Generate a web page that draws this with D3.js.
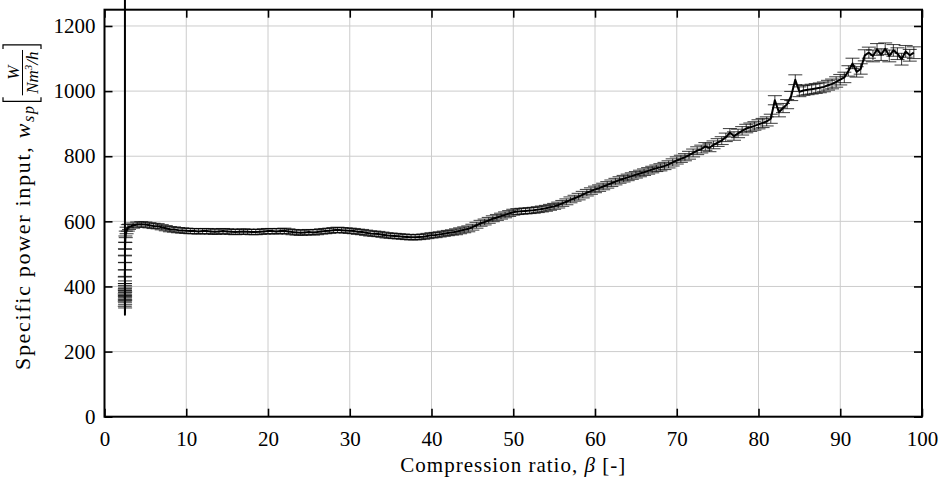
<!DOCTYPE html>
<html>
<head>
<meta charset="utf-8">
<script src="https://cdn.jsdelivr.net/npm/d3@7"></script>
<style>
  body { margin: 0; background: #fff; }
  svg { display: block; }
  text { font-family: "Liberation Serif", "DejaVu Serif", serif; fill: #000; }
</style>
</head>
<body>
<svg class="main" width="939" height="479"></svg>
<script>
// ticks
const xTicks = [0, 10, 20, 30, 40, 50, 60, 70, 80, 90, 100];
const yTicks = [0, 200, 400, 600, 800, 1000, 1200];

// start-up transient at beta ~ 2.5 (first point runs off the top)
const spikeBeta = [2.5, 2.5, 2.52, 2.48, 2.52, 2.5, 2.47, 2.53, 2.5, 2.48, 2.52, 2.5, 2.49, 2.51, 2.5, 2.48, 2.52, 2.5, 2.5, 2.52, 2.55, 2.6, 2.7, 2.85];
const spikeW = [1600, 313, 345, 350, 356, 361, 366, 371, 376, 381, 386, 392, 398, 405, 420, 440, 462, 485, 505, 525, 545, 560, 572, 580];
const spikeErr = [0, 0, 11, 11, 12, 11, 11, 12, 11, 11, 12, 11, 11, 12, 11, 11, 11, 11, 11, 11, 10, 10, 10, 10];

// measured curve
const beta = [
  3, 3.5, 4, 4.5, 5, 5.5, 6, 6.5, 7, 7.5,
  8, 8.5, 9, 9.5, 10, 10.5, 11, 11.5, 12, 12.5,
  13, 13.5, 14, 14.5, 15, 15.5, 16, 16.5, 17, 17.5,
  18, 18.5, 19, 19.5, 20, 20.5, 21, 21.5, 22, 22.5,
  23, 23.5, 24, 24.5, 25, 25.5, 26, 26.5, 27, 27.5,
  28, 28.5, 29, 29.5, 30, 30.5, 31, 31.5, 32, 32.5,
  33, 33.5, 34, 34.5, 35, 35.5, 36, 36.5, 37, 37.5,
  38, 38.5, 39, 39.5, 40, 40.5, 41, 41.5, 42, 42.5,
  43, 43.5, 44, 44.5, 45, 45.5, 46, 46.5, 47, 47.5,
  48, 48.5, 49, 49.5, 50, 50.5, 51, 51.5, 52, 52.5,
  53, 53.5, 54, 54.5, 55, 55.5, 56, 56.5, 57, 57.5,
  58, 58.5, 59, 59.5, 60, 60.5, 61, 61.5, 62, 62.5,
  63, 63.5, 64, 64.5, 65, 65.5, 66, 66.5, 67, 67.5,
  68, 68.5, 69, 69.5, 70, 70.5, 71, 71.5, 72, 72.5,
  73, 73.5, 74, 74.5, 75, 75.5, 76, 76.5, 77, 77.5,
  78, 78.5, 79, 79.5, 80, 80.5, 81, 81.5, 82, 82.5,
  83, 83.5, 84, 84.5, 85, 85.5, 86, 86.5, 87, 87.5,
  88, 88.5, 89, 89.5, 90, 90.5, 91, 91.5, 92, 92.5,
  93, 93.5, 94, 94.5, 95, 95.5, 96, 96.5, 97, 97.5,
  98, 98.5, 99
];
const wsp = [
  583, 587, 590, 591, 590, 588, 586, 585, 582, 579,
  576, 575, 573, 572, 571, 570, 570, 569, 570, 570,
  569, 568, 569, 570, 569, 568, 567, 568, 569, 568,
  567, 567, 568, 569, 570, 570, 569, 570, 571, 569,
  567, 566, 565, 566, 567, 566, 567, 569, 570, 571,
  573, 574, 573, 572, 571, 570, 568, 567, 565, 563,
  562, 561, 559, 557, 556, 555, 554, 553, 552, 551,
  551, 552, 553, 555, 557, 558, 560, 562, 564, 566,
  568, 571, 574, 577, 582, 588, 594, 598, 603, 608,
  612, 616, 620, 624, 628, 630, 631, 632, 633, 634,
  636, 638, 640, 643, 646, 650, 655, 660, 666, 671,
  676, 682, 688, 693, 698, 702, 707, 712, 717, 722,
  727, 731, 735, 739, 743, 747, 751, 755, 759, 763,
  766, 770, 775, 781, 787, 792, 797, 803, 810, 817,
  822, 830, 826, 835, 842, 848, 858, 872, 862, 870,
  878, 885, 889, 893, 898, 902, 907, 915, 972, 935,
  948, 960, 985, 1035, 998, 1002, 1004, 1006, 1008, 1010,
  1013, 1018, 1022, 1028, 1035, 1042, 1062, 1085, 1059, 1068,
  1110, 1118, 1108, 1128, 1112, 1130, 1108, 1125, 1115, 1098,
  1122, 1110, 1118
];
const wspErr = [
  8, 8, 8, 8, 8, 8, 8, 8, 8, 8,
  8, 8, 8, 8, 8, 8, 8, 8, 8, 8,
  8, 8, 8, 8, 8, 8, 8, 8, 8, 8,
  8, 8, 8, 8, 8, 8, 8, 8, 8, 8,
  8, 8, 8, 8, 8, 8, 8, 8, 8, 8,
  8, 8, 8, 8, 8, 8, 8, 8, 8, 8,
  8, 8, 8, 8, 8, 8, 8, 8, 8, 8,
  8, 8, 8, 8, 8, 8, 8, 8, 8, 8,
  9, 9, 9, 9, 9, 9, 9, 9, 9, 9,
  9, 9, 9, 9, 9, 9, 9, 9, 9, 9,
  9, 9, 9, 9, 9, 9, 9, 9, 9, 9,
  10, 10, 10, 10, 10, 10, 10, 10, 10, 10,
  10, 10, 10, 10, 10, 10, 10, 10, 10, 10,
  11, 11, 11, 11, 11, 11, 11, 12, 12, 12,
  12, 12, 12, 12, 12, 12, 13, 13, 13, 13,
  13, 13, 13, 13, 14, 14, 14, 14, 14, 14,
  14, 14, 14, 15, 15, 15, 15, 15, 15, 15,
  15, 15, 15, 16, 16, 16, 16, 16, 16, 16,
  17, 17, 18, 18, 18, 18, 18, 18, 18, 18,
  18, 18, 18
];

const svg = d3.select(".main");
const frame = { left: 104.5, right: 922, top: 9.7, bottom: 416.7 };

const x = d3.scaleLinear().domain([0, 100]).range([frame.left, frame.right]);
const y = d3.scaleLinear().domain([0, 1250]).range([frame.bottom, frame.top]);

// grid
const grid = svg.append("g").attr("stroke", "#cccccc").attr("stroke-width", 1);
grid.selectAll(".gx").data(xTicks.slice(1, -1)).join("line")
  .attr("x1", d => x(d)).attr("x2", d => x(d))
  .attr("y1", frame.top).attr("y2", frame.bottom);
grid.selectAll(".gy").data(yTicks.slice(1)).join("line")
  .attr("x1", frame.left).attr("x2", frame.right)
  .attr("y1", d => y(d)).attr("y2", d => y(d));

// points: spike then curve
const pts = spikeBeta.map((b, i) => ({ b, w: spikeW[i], e: spikeErr[i] }))
  .concat(beta.map((b, i) => ({ b, w: wsp[i], e: wspErr[i] })));

// error bars
const cap = 7;
const eb = svg.append("g").attr("stroke", "#000").attr("stroke-opacity", 0.7).attr("stroke-width", 1.1);
const bars = eb.selectAll("g").data(pts.filter(d => d.e > 0)).join("g");
bars.append("line")
  .attr("x1", d => x(d.b)).attr("x2", d => x(d.b))
  .attr("y1", d => y(d.w - d.e)).attr("y2", d => y(d.w + d.e));
bars.append("line")
  .attr("x1", d => x(d.b) - cap).attr("x2", d => x(d.b) + cap)
  .attr("y1", d => y(d.w + d.e)).attr("y2", d => y(d.w + d.e));
bars.append("line")
  .attr("x1", d => x(d.b) - cap).attr("x2", d => x(d.b) + cap)
  .attr("y1", d => y(d.w - d.e)).attr("y2", d => y(d.w - d.e));

// the curve
const line = d3.line().x(d => x(d.b)).y(d => y(d.w));
svg.append("path")
  .datum(pts)
  .attr("fill", "none")
  .attr("stroke", "#000")
  .attr("stroke-width", 2)
  .attr("stroke-linejoin", "round")
  .attr("d", line);

// axes, ticks pointing inward
function styleAxis(g) {
  g.attr("font-family", null).attr("font-size", null);
  g.select(".domain").remove();
  g.selectAll(".tick line").attr("stroke", "#000").attr("stroke-width", 1.6);
  g.selectAll(".tick text").attr("font-size", 21);
}
svg.append("g").attr("transform", `translate(0,${frame.bottom})`)
  .call(d3.axisBottom(x).tickValues(xTicks).tickSize(-8).tickPadding(14).tickFormat(d3.format("d")))
  .call(styleAxis);
svg.append("g").attr("transform", `translate(0,${frame.top})`)
  .call(d3.axisTop(x).tickValues(xTicks).tickSize(-8).tickFormat(""))
  .call(styleAxis);
svg.append("g").attr("transform", `translate(${frame.left},0)`)
  .call(d3.axisLeft(y).tickValues(yTicks).tickSize(-8).tickPadding(9).tickFormat(d3.format("d")))
  .call(styleAxis);
svg.append("g").attr("transform", `translate(${frame.right},0)`)
  .call(d3.axisRight(y).tickValues(yTicks).tickSize(-8).tickFormat(""))
  .call(styleAxis);

svg.append("rect")
  .attr("x", frame.left).attr("y", frame.top)
  .attr("width", frame.right - frame.left).attr("height", frame.bottom - frame.top)
  .attr("fill", "none").attr("stroke", "#000").attr("stroke-width", 2);

// x label
const xl = svg.append("text")
  .attr("x", (frame.left + frame.right) / 2).attr("y", 472)
  .attr("text-anchor", "middle").attr("font-size", 21).attr("letter-spacing", 1);
xl.append("tspan").text("Compression ratio, ");
xl.append("tspan").attr("font-style", "italic").text("β");
xl.append("tspan").text(" [-]");

// y label with fraction unit
const yl = svg.append("g");
const inner = yl.append("g");
const t1 = inner.append("text").attr("font-size", 22).attr("letter-spacing", 1.7);
t1.append("tspan").text("Specific power input, ");
t1.append("tspan").attr("font-style", "italic").text("w");
t1.append("tspan").attr("font-style", "italic").attr("font-size", 16).attr("dy", 4).text("sp");
const w1 = t1.node().getComputedTextLength();

const bx = w1 + 3;
const num = inner.append("text").attr("font-size", 17).attr("font-style", "italic")
  .attr("text-anchor", "middle").attr("y", -11).text("W");
const den = inner.append("text").attr("font-size", 17).attr("font-style", "italic")
  .attr("text-anchor", "middle").attr("y", 8);
den.append("tspan").text("Nm");
den.append("tspan").attr("font-size", 11).attr("dy", -6).text("3");
den.append("tspan").attr("dy", 6).text("/h");
const fw = Math.max(num.node().getComputedTextLength(), den.node().getComputedTextLength()) + 3;
const fx = bx + 6;
num.attr("x", fx + fw / 2);
den.attr("x", fx + fw / 2);
inner.append("line").attr("x1", fx).attr("x2", fx + fw).attr("y1", -7.5).attr("y2", -7.5)
  .attr("stroke", "#000").attr("stroke-width", 1);
const bracket = (x0, dir) => `M${x0 + dir * 4},-27H${x0}V11H${x0 + dir * 4}`;
inner.append("path").attr("d", bracket(bx, 1)).attr("fill", "none").attr("stroke", "#000").attr("stroke-width", 1.2);
const rx = fx + fw + 5;
inner.append("path").attr("d", bracket(rx, -1)).attr("fill", "none").attr("stroke", "#000").attr("stroke-width", 1.2);
inner.attr("transform", `translate(${-rx / 2},0)`);
yl.attr("transform", `translate(30,207.5) rotate(-90)`);
</script>
</body>
</html>
